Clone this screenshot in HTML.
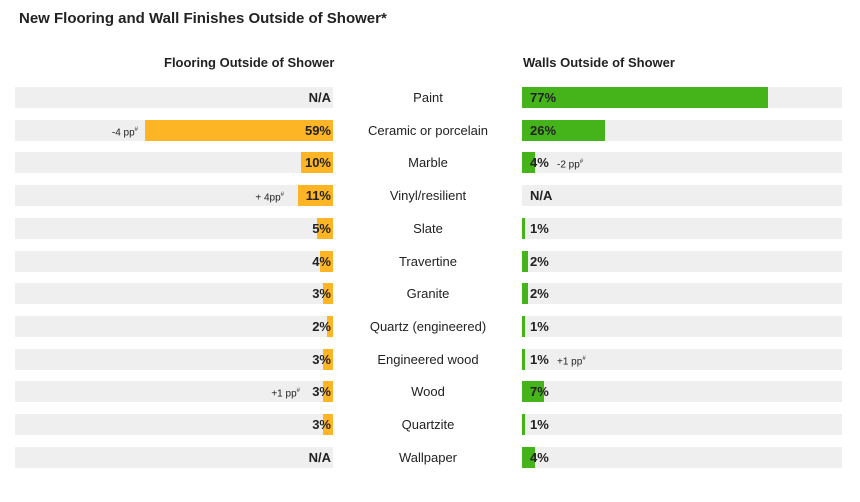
<!DOCTYPE html><html><head><style>
body{margin:0;width:860px;height:502px;background:#fff;font-family:"Liberation Sans",Arial,sans-serif;color:#222;position:relative;overflow:hidden}
.t{position:absolute;left:19px;top:10px;font-size:15px;font-weight:bold}
.h{position:absolute;top:55px;font-size:13px;font-weight:bold}
.bg{position:absolute;height:21px;background:#efefef}
.o{position:absolute;height:21px;background:#fdb525}
.g{position:absolute;height:21px;background:#45b31a}
.v{position:absolute;font-size:13px;font-weight:bold;line-height:21px}
.c{position:absolute;left:348px;width:160px;text-align:center;font-size:13px;line-height:21px}
.n{position:absolute;font-size:10px;line-height:21px}
</style></head><body>
<div class="t">New Flooring and Wall Finishes Outside of Shower*</div>
<div class="h" style="left:164px">Flooring Outside of Shower</div>
<div class="h" style="left:523px">Walls Outside of Shower</div>
<div id="r"></div>
<script>
var d=[["Paint",null,77,"",""],["Ceramic or porcelain",59,26,"-4 pp\u2071",""],["Marble",10,4,"","-2 pp\u2071"],["Vinyl/resilient",11,null,"+ 4pp\u2071",""],["Slate",5,1,"",""],["Travertine",4,2,"",""],["Granite",3,2,"",""],["Quartz (engineered)",2,1,"",""],["Engineered wood",3,1,"","+1 pp\u2071"],["Wood",3,7,"+1 pp\u2071",""],["Quartzite",3,1,"",""],["Wallpaper",null,4,"",""]];
var h="";
d.forEach(function(r,i){var y=87+i*32.7;
h+='<div class="bg" style="left:15px;width:318px;top:'+y+'px"></div><div class="bg" style="left:522px;width:320px;top:'+y+'px"></div>';
var lw=r[1]==null?0:r[1]*3.18;
if(lw)h+='<div class="o" style="left:'+(333-lw)+'px;width:'+lw+'px;top:'+y+'px"></div>';
h+='<div class="v" style="right:'+(860-331)+'px;top:'+y+'px">'+(r[1]==null?'N/A':r[1]+'%')+'</div>';
var rr=r[1]==59?(860-138):(r[1]==11?(860-284):(860-300));
if(r[3])h+='<div class="n" style="right:'+rr+'px;top:'+y+'px">'+r[3].replace('\u2071','<sup style="font-size:6px">#</sup>')+'</div>';
var rw=r[2]==null?0:r[2]*3.2;
if(rw)h+='<div class="g" style="left:522px;width:'+rw+'px;top:'+y+'px"></div>';
h+='<div class="v" style="left:530px;top:'+y+'px">'+(r[2]==null?'N/A':r[2]+'%')+'</div>';
if(r[4])h+='<div class="n" style="left:557px;top:'+y+'px">'+r[4].replace('\u2071','<sup style="font-size:6px">#</sup>')+'</div>';
h+='<div class="c" style="top:'+y+'px">'+r[0]+'</div>';});
document.getElementById('r').innerHTML=h;
</script></body></html>
